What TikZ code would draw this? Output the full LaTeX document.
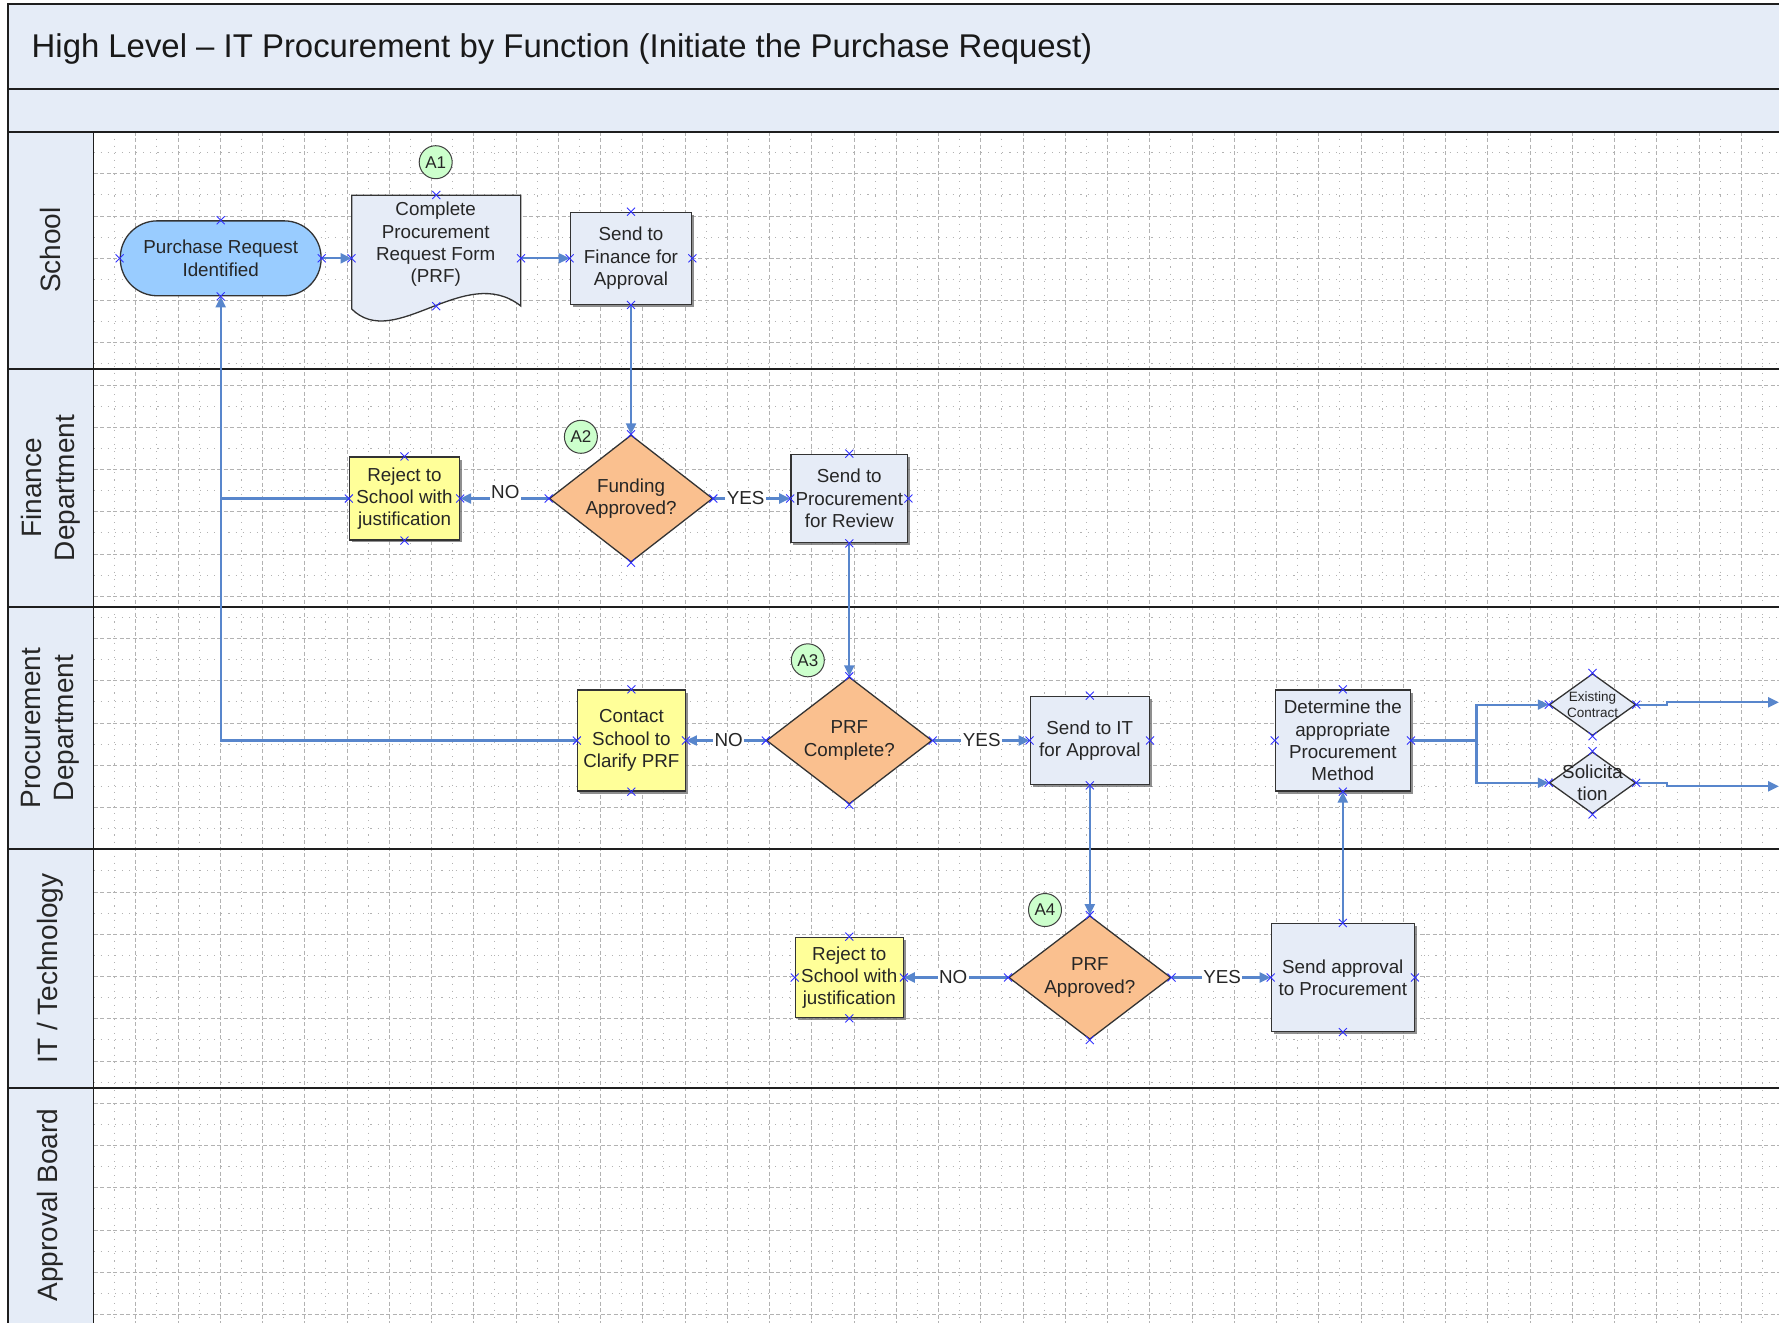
\documentclass[tikz,border=0pt]{standalone}
\usepackage{fontspec}
\setmainfont{Liberation Sans}
\usetikzlibrary{shapes.geometric,shadows,arrows.meta}
\definecolor{hdrfill}{RGB}{229,236,247}
\definecolor{boxfill}{RGB}{230,236,247}
\definecolor{yelfill}{RGB}{255,255,153}
\definecolor{orgfill}{RGB}{250,192,143}
\definecolor{grnfill}{RGB}{204,255,204}
\definecolor{termfill}{RGB}{153,204,255}
\definecolor{connblue}{RGB}{88,134,204}
\definecolor{markblue}{RGB}{50,50,255}
\definecolor{gridgray}{RGB}{178,178,178}
\definecolor{txtcol}{RGB}{38,38,38}
\definecolor{framecol}{RGB}{30,30,30}
\begin{document}
\begin{tikzpicture}[x=1pt,y=-1pt,
  every node/.style={font=\fontsize{18.8}{22.3}\selectfont, text=txtcol, align=center, inner sep=0pt},
  shapeline/.style={draw=black!80, line width=1.3pt},
  shad/.style={drop shadow={shadow xshift=2.5pt,shadow yshift=-2.5pt,fill=black!55,opacity=.8}},
  procbox/.style={rectangle, shapeline, fill=boxfill, shad},
  rejbox/.style={rectangle, shapeline, fill=yelfill, shad},
  termshape/.style={rectangle, shapeline, fill=termfill, rounded corners=37pt},
  decis/.style={diamond, aspect=1.3, shapeline, fill=orgfill},
  smalldec/.style={diamond, shapeline, fill=boxfill},
  tag/.style={circle, draw=black!75, line width=1pt, fill=grnfill, minimum size=33pt, font=\fontsize{17}{20}\selectfont},
  conn/.style={draw=connblue, line width=2.2pt, -{Triangle[length=11pt,width=10pt]}},
  connplain/.style={draw=connblue, line width=2.2pt},
  lbl/.style={fill=white, inner sep=1.5pt},
  majgrid/.style={draw=gridgray, line width=0.9pt, dash pattern=on 4pt off 2.5pt},
  mingrid/.style={draw=gridgray, line width=1.1pt, dash pattern=on 1.1pt off 6pt},
  lanetxt/.style={rotate=90, font=\fontsize{28}{33}\selectfont},
  sep/.style={draw=framecol, line width=1.6pt},
  xm/.pic={\draw[markblue, line width=0.9pt] (-4pt,-4pt) -- (4pt,4pt) (-4pt,4pt) -- (4pt,-4pt);}
]
\useasboundingbox (0,0) rectangle (1779,1323);
\fill[white] (0,0) rectangle (1779,1323);
% header bands
\fill[hdrfill] (8,4.3) rectangle (1779,131.5);
\fill[hdrfill] (8,131.5) rectangle (93.5,1323);
% grid
\foreach \k in {1,...,39} {\draw[majgrid] ({93.5+42.25*\k},131.5) -- ({93.5+42.25*\k},1323);}
\foreach \k in {0,...,39} {\draw[mingrid] ({114.6+42.25*\k},131.5) -- ({114.6+42.25*\k},1323);}
\foreach \k in {1,...,28} {\draw[majgrid] (93.5,{131.5+42.25*\k}) -- (1779,{131.5+42.25*\k});}
\foreach \k in {0,...,27} {\draw[mingrid] (93.5,{152.6+42.25*\k}) -- (1779,{152.6+42.25*\k});}
% frame and lanes
\draw[sep, line width=2.2pt] (1779,4.3) -- (8,4.3) -- (8,1323);
\draw[sep, line width=2pt] (8,89) -- (1779,89);
\draw[sep, line width=2pt] (8,131.5) -- (1779,131.5);
\draw[sep] (8,369) -- (1779,369);
\draw[sep] (8,607) -- (1779,607);
\draw[sep] (8,849) -- (1779,849);
\draw[sep] (8,1088) -- (1779,1088);
\draw[sep] (93.5,131.5) -- (93.5,1323);
% title and lane labels
\node[anchor=west, font=\fontsize{32.9}{39}\selectfont, text=black!90] (title) at (31.5,48.5) {High Level – IT Procurement by Function (Initiate the Purchase Request)};
\node[lanetxt] (lschool) at (50.5,250) {School};
\node[lanetxt] (lfin) at (50.5,488) {Finance\\Department};
\node[lanetxt] (lproc) at (50.5,728) {Procurement\\Department};
\node[lanetxt] (lit) at (50.5,968.5) {IT / Technology};
\node[lanetxt] (lab) at (50.5,1205) {Approval Board};
% School lane
\node[termshape, minimum width=200.8pt, minimum height=74.9pt] (term) at (220.7,258.3) {Purchase Request\\Identified};
\draw[shapeline, fill=boxfill] (351.7,195.2) -- (520.8,195.2) -- (520.8,306) .. controls (465,262) and (395,352) .. (351.7,309) -- cycle;
\node[minimum width=169.1pt, minimum height=110.8pt] (doc) at (436.25,250.6) {};
\node (doctxt) at (435.7,244.5) {Complete\\Procurement\\Request Form\\(PRF)};
\node[tag] (a1) at (435.7,162.2) {A1};
\node[procbox, minimum width=121.4pt, minimum height=91.9pt] (sendF) at (631,258.3) {Send to\\Finance for\\Approval};
% Finance lane
\node[decis, minimum width=163.4pt, minimum height=127.1pt] (fund) at (631,498.5) {Funding\\Approved?};
\node[tag] (a2) at (580.9,436.8) {A2};
\node[rejbox, minimum width=110pt, minimum height=82.8pt] (rejF) at (404.5,498.5) {Reject to\\School with\\justification};
\node[procbox, minimum width=116.9pt, minimum height=88.5pt] (sendP) at (849.3,498.5) {Send to\\Procurement\\for Review};
% Procurement lane
\node[decis, minimum width=165.6pt, minimum height=127.1pt] (prfc) at (849.3,740.5) {PRF\\Complete?};
\node[tag] (a3) at (807.8,660.3) {A3};
\node[rejbox, minimum width=107.8pt, minimum height=101pt] (contact) at (631.4,740.5) {Contact\\School to\\Clarify PRF};
\node[procbox, minimum width=119.2pt, minimum height=88.5pt] (sendIT) at (1089.8,740.5) {Send to IT\\for Approval};
\node[procbox, minimum width=135pt, minimum height=101pt] (det) at (1342.8,740.5) {Determine the\\appropriate\\Procurement\\Method};
\node[smalldec, minimum width=86.2pt, minimum height=62pt, label={[font=\fontsize{13.5}{16.5}\selectfont]center:Existing\\Contract}] (ec) at (1592.5,704.6) {};
\node[smalldec, minimum width=86.2pt, minimum height=62pt, label={center:Solicita\\tion}] (sol) at (1592.5,782.8) {};
% IT lane
\node[decis, minimum width=162.2pt, minimum height=123.6pt] (prfa) at (1089.8,977.5) {PRF\\Approved?};
\node[tag] (a4) at (1045,910) {A4};
\node[rejbox, minimum width=107.8pt, minimum height=80.5pt] (rejIT) at (849.3,977.5) {Reject to\\School with\\justification};
\node[procbox, minimum width=142.9pt, minimum height=107.8pt] (sa) at (1342.8,977.5) {Send approval\\to Procurement};
% connectors
\draw[conn] (term.east) -- (term.east -| doc.west);
\draw[conn] (sendF.west -| doc.east) -- (sendF.west);
\draw[conn] (sendF.south) -- (fund.north);
\draw[conn] (fund.west) -- node[lbl, pos=0.49, yshift=6pt]{NO} (rejF.east);
\draw[conn] (fund.east) -- node[lbl, pos=0.42]{YES} (sendP.west);
\draw[connplain] (rejF.west) -- (rejF.west -| term.south);
\draw[conn] (contact.west) -| (term.south);
\draw[conn] (sendP.south) -- (prfc.north);
\draw[conn] (prfc.west) -- node[lbl, pos=0.465]{NO} (contact.east);
\draw[conn] (prfc.east) -- node[lbl, pos=0.506]{YES} (sendIT.west);
\draw[conn] (sendIT.south) -- (prfa.north);
\draw[conn] (prfa.west) -- node[lbl, pos=0.527]{NO} (rejIT.east);
\draw[conn] (prfa.east) -- node[lbl, pos=0.51]{YES} (sa.west);
\draw[conn] (sa.north) -- (det.south);
\coordinate (jn) at (1476.4,740.5);
\draw[connplain] (det.east) -- (jn);
\draw[conn] (jn) |- (ec.west);
\draw[conn] (jn) |- (sol.west);
\coordinate (out1) at (1779,702.3);
\coordinate (out2) at (1779,786.3);
\draw[conn] (ec.east) -- ++(31,0) |- (out1);
\draw[conn] (sol.east) -- ++(31,0) |- (out2);
% connection point markers
\foreach \n in {term,sendF,fund,rejF,sendP,prfc,contact,sendIT,det,ec,sol,prfa,rejIT,sa}{
  \foreach \a in {north,south,east,west}{\pic at (\n.\a) {xm};}}
\pic at (doc.north) {xm};
\pic at (doc.south) {xm};
\pic at (doc.west |- term.east) {xm};
\pic at (doc.east |- term.east) {xm};
\end{tikzpicture}
\end{document}
